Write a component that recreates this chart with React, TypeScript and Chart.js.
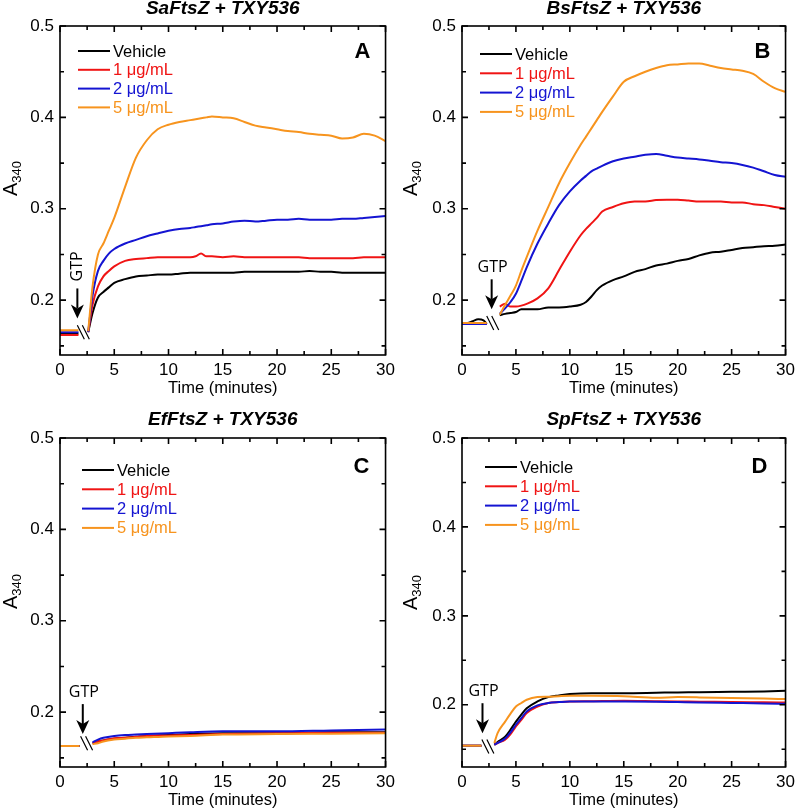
import React, { useEffect, useRef } from 'react';
import { Chart, registerables } from 'chart.js';

Chart.register(...registerables);

// ---------- shared ----------
const SERIES_LABELS = ['Vehicle', '1 μg/mL', '2 μg/mL', '5 μg/mL'];
const SERIES_COLORS = ['#000000', '#f01414', '#1414d2', '#f7941e'];
const SERIES_ORDER = [3, 2, 1, 0];
const X_TICKS = [0, 5, 10, 15, 20, 25, 30];
const Y_TICKS = [0.2, 0.3, 0.4, 0.5];
const PANEL_TITLES = ['SaFtsZ + TXY536', 'BsFtsZ + TXY536', 'EfFtsZ + TXY536', 'SpFtsZ + TXY536'];
const PANEL_LETTERS = ['A', 'B', 'C', 'D'];

// ---------- Panel A ----------
const TIME_A = [0, 1, 1.7, 2.2, 2.6, 3, 3.5, 4, 4.5, 5, 6, 7, 8, 9, 10, 11, 12, 12.5, 13, 13.5, 14, 15, 16, 17, 18, 19, 20, 21, 22, 23, 24, 25, 26, 27, 28, 29, 30];
const A_VEHICLE = [0.1635, 0.1635, 0.1635, null, 0.165, 0.186, 0.203, 0.209, 0.214, 0.219, 0.223, 0.226, 0.227, 0.228, 0.228, 0.229, 0.230, 0.230, 0.230, 0.230, 0.230, 0.230, 0.230, 0.231, 0.231, 0.231, 0.231, 0.231, 0.231, 0.232, 0.231, 0.231, 0.230, 0.230, 0.230, 0.230, 0.230];
const A_1UG = [0.162, 0.162, 0.162, null, 0.165, 0.195, 0.215, 0.226, 0.232, 0.237, 0.243, 0.245, 0.246, 0.247, 0.247, 0.247, 0.247, 0.248, 0.251, 0.248, 0.248, 0.247, 0.248, 0.247, 0.247, 0.247, 0.247, 0.247, 0.247, 0.246, 0.246, 0.246, 0.246, 0.246, 0.247, 0.247, 0.247];
const A_2UG = [0.165, 0.165, 0.165, null, 0.165, 0.205, 0.232, 0.243, 0.251, 0.256, 0.262, 0.266, 0.270, 0.273, 0.276, 0.278, 0.279, 0.280, 0.281, 0.282, 0.283, 0.284, 0.286, 0.287, 0.286, 0.287, 0.288, 0.288, 0.289, 0.288, 0.288, 0.288, 0.289, 0.289, 0.290, 0.291, 0.292];
const A_5UG = [0.167, 0.167, 0.167, null, 0.166, 0.215, 0.250, 0.262, 0.276, 0.290, 0.324, 0.356, 0.375, 0.387, 0.392, 0.395, 0.397, 0.398, 0.399, 0.400, 0.401, 0.400, 0.399, 0.395, 0.391, 0.389, 0.387, 0.385, 0.384, 0.382, 0.381, 0.380, 0.377, 0.378, 0.382, 0.380, 0.374];

// ---------- Panel B ----------
const TIME_B = [0, 0.5, 1, 1.5, 2, 2.3, 2.9, 3.5, 4, 4.5, 5, 5.5, 6, 7, 8, 9, 10, 11, 11.5, 12, 12.5, 13, 14, 15, 16, 17, 18, 19, 20, 21, 22, 23, 24, 25, 26, 27, 28, 29, 30];
const B_VEHICLE = [0.175, 0.175, 0.177, 0.179, 0.178, 0.174, null, 0.1836, 0.185, 0.186, 0.187, 0.190, 0.190, 0.190, 0.192, 0.192, 0.193, 0.195, 0.198, 0.204, 0.211, 0.216, 0.222, 0.226, 0.231, 0.234, 0.238, 0.240, 0.243, 0.245, 0.249, 0.252, 0.253, 0.255, 0.257, 0.258, 0.259, 0.2595, 0.261];
const B_1UG = [0.174, 0.174, 0.174, 0.174, 0.174, 0.174, null, 0.193, 0.196, 0.193, 0.193, 0.194, 0.196, 0.202, 0.213, 0.233, 0.253, 0.271, 0.278, 0.284, 0.290, 0.297, 0.302, 0.306, 0.308, 0.308, 0.3095, 0.310, 0.310, 0.309, 0.308, 0.308, 0.308, 0.307, 0.307, 0.305, 0.304, 0.302, 0.300];
const B_2UG = [0.174, 0.174, 0.174, 0.174, 0.174, 0.174, null, 0.185, 0.191, 0.198, 0.207, 0.221, 0.236, 0.262, 0.284, 0.304, 0.319, 0.331, 0.336, 0.341, 0.344, 0.347, 0.352, 0.355, 0.357, 0.359, 0.360, 0.358, 0.356, 0.355, 0.354, 0.3525, 0.351, 0.350, 0.348, 0.345, 0.341, 0.337, 0.335];
const B_5UG = [0.175, 0.175, 0.175, 0.175, 0.175, 0.175, null, 0.184, 0.195, 0.205, 0.216, 0.232, 0.247, 0.276, 0.302, 0.328, 0.350, 0.370, 0.379, 0.388, 0.397, 0.406, 0.423, 0.439, 0.445, 0.450, 0.454, 0.457, 0.458, 0.459, 0.459, 0.4565, 0.454, 0.4525, 0.451, 0.4475, 0.439, 0.432, 0.428];

// ---------- Panel C ----------
const TIME_C = [0, 1, 1.8, 2.4, 3, 3.5, 4, 5, 6, 7, 8, 10, 12, 15, 20, 25, 30];
const C_VEHICLE = [0.163, 0.163, 0.163, null, 0.166, 0.168, 0.169, 0.171, 0.172, 0.173, 0.174, 0.175, 0.176, 0.177, 0.177, 0.178, 0.178];
const C_1UG = [0.163, 0.163, 0.163, null, 0.166, 0.168, 0.169, 0.1715, 0.172, 0.173, 0.174, 0.1745, 0.175, 0.176, 0.177, 0.1775, 0.1775];
const C_2UG = [0.163, 0.163, 0.163, null, 0.167, 0.170, 0.172, 0.174, 0.175, 0.1755, 0.176, 0.177, 0.178, 0.179, 0.179, 0.180, 0.181];
const C_5UG = [0.163, 0.163, 0.163, null, 0.165, 0.166, 0.168, 0.170, 0.171, 0.172, 0.1725, 0.1735, 0.174, 0.1755, 0.176, 0.1765, 0.177];

// ---------- Panel D ----------
const TIME_D = [0, 1, 1.8, 2.4, 3, 3.3, 4, 4.5, 5, 5.5, 6, 7, 8, 9, 10, 12, 15, 18, 20, 22, 25, 28, 30];
const D_VEHICLE = [0.154, 0.154, 0.154, null, 0.155, 0.158, 0.164, 0.172, 0.181, 0.189, 0.196, 0.2037, 0.2086, 0.2105, 0.212, 0.213, 0.213, 0.2135, 0.2139, 0.214, 0.2146, 0.215, 0.2157];
const D_1UG = [0.154, 0.154, 0.154, null, 0.155, 0.157, 0.1606, 0.167, 0.1756, 0.183, 0.1906, 0.198, 0.2019, 0.203, 0.2037, 0.204, 0.2045, 0.204, 0.2037, 0.2035, 0.203, 0.2028, 0.2026];
const D_2UG = [0.154, 0.154, 0.154, null, 0.155, 0.157, 0.162, 0.169, 0.1775, 0.185, 0.1925, 0.1993, 0.202, 0.203, 0.2037, 0.2037, 0.2037, 0.2035, 0.203, 0.2025, 0.202, 0.2015, 0.201];
const D_5UG = [0.154, 0.154, 0.154, null, 0.157, 0.168, 0.181, 0.190, 0.198, 0.202, 0.2056, 0.2086, 0.209, 0.2096, 0.210, 0.210, 0.2096, 0.208, 0.2086, 0.2083, 0.2075, 0.207, 0.2064];

const Y_MINS = [0.14, 0.14, 0.14, 0.13];
// GTP arrow: [time of arrow, value of tip], break mark: [time, value]
const GTP_ARROWS = [[1.6, 0.180], [2.75, 0.190], [2.1, 0.176], [1.9, 0.168]];
const BREAK_MARKS = [[2.15, 0.165], [2.85, 0.175], [2.45, 0.166], [2.4, 0.153]];

const PANEL_DATA = [
  { time: TIME_A, series: [A_VEHICLE, A_1UG, A_2UG, A_5UG] },
  { time: TIME_B, series: [B_VEHICLE, B_1UG, B_2UG, B_5UG] },
  { time: TIME_C, series: [C_VEHICLE, C_1UG, C_2UG, C_5UG] },
  { time: TIME_D, series: [D_VEHICLE, D_1UG, D_2UG, D_5UG] },
];

// layout per panel (canvas-local pixels)
const LAYOUT = [
  { left: 0, top: 0, yAxisW: 60, padRight: 12, padTop: 26, xAxisH: 50, titleY: 9, xTitleY: 388, yTitleOff: -12, legX: 18, legY: 25, legRow: 18.8, letterDx: 23, letterDy: 26, gtpRot: true },
  { left: 400, top: 0, yAxisW: 62, padRight: 10, padTop: 26, xAxisH: 50, titleY: 9, xTitleY: 388, yTitleOff: -12, legX: 18, legY: 28, legRow: 19.3, letterDx: 23, letterDy: 26, gtpRot: false },
  { left: 0, top: 405, yAxisW: 60, padRight: 12, padTop: 33, xAxisH: 43, titleY: 15, xTitleY: 395, yTitleOff: -11, legX: 22, legY: 32, legRow: 19.3, letterDx: 24, letterDy: 29, gtpRot: false },
  { left: 400, top: 405, yAxisW: 62, padRight: 10, padTop: 33, xAxisH: 43, titleY: 15, xTitleY: 395, yTitleOff: -10, legX: 23, legY: 29, legRow: 19.3, letterDx: 26, letterDy: 29, gtpRot: false },
];

const FONT = '"Liberation Sans", Arial, Helvetica, sans-serif';

function makeDecor(idx: number) {
  const L = LAYOUT[idx];
  return {
    id: 'decor' + idx,
    afterDraw(chart: any) {
      const { ctx, chartArea: a } = chart;
      const xs = chart.scales.x;
      const ys = chart.scales.y;
      ctx.save();
      ctx.strokeStyle = '#000';
      ctx.fillStyle = '#000';
      // frame
      ctx.lineWidth = 1.6;
      ctx.strokeRect(a.left, a.top, a.right - a.left, a.bottom - a.top);
      // ticks inside, all four sides
      ctx.beginPath();
      for (let i = 0; i <= 12; i++) {
        const px = xs.getPixelForValue(i * 2.5);
        const len = i % 2 === 0 ? 6 : 4;
        ctx.moveTo(px, a.bottom); ctx.lineTo(px, a.bottom - len);
        ctx.moveTo(px, a.top); ctx.lineTo(px, a.top + len);
      }
      for (let k = 2; k <= 10; k++) {
        const v = k * 0.05;
        if (v < ys.min - 1e-9) continue;
        const py = ys.getPixelForValue(v);
        const len = k % 2 === 0 ? 6 : 4;
        ctx.moveTo(a.left, py); ctx.lineTo(a.left + len, py);
        ctx.moveTo(a.right, py); ctx.lineTo(a.right - len, py);
      }
      ctx.stroke();

      // title
      const cx = (a.left + a.right) / 2;
      ctx.font = 'italic bold 19px ' + FONT;
      ctx.textAlign = 'center';
      ctx.textBaseline = 'middle';
      ctx.fillText(PANEL_TITLES[idx], cx, L.titleY);
      // x title
      ctx.font = '16.5px ' + FONT;
      ctx.fillText('Time (minutes)', cx, L.xTitleY);
      // y title A340
      const cy = (a.top + a.bottom) / 2 + L.yTitleOff;
      ctx.save();
      ctx.translate(17, cy);
      ctx.rotate(-Math.PI / 2);
      ctx.textAlign = 'left';
      ctx.textBaseline = 'alphabetic';
      ctx.font = '20px ' + FONT;
      const wA = ctx.measureText('A').width;
      ctx.font = '13px ' + FONT;
      const wS = ctx.measureText('340').width;
      const start = -(wA + wS) / 2;
      ctx.font = '20px ' + FONT;
      ctx.fillText('A', start, 0);
      ctx.font = '13px ' + FONT;
      ctx.fillText('340', start + wA, 4);
      ctx.restore();

      // panel letter
      ctx.font = 'bold 22px ' + FONT;
      ctx.textAlign = 'center';
      ctx.textBaseline = 'middle';
      ctx.fillText(PANEL_LETTERS[idx], a.right - L.letterDx, a.top + L.letterDy);

      // legend
      chart.data.datasets.forEach((ds: any, i: number) => {
        const y = a.top + L.legY + i * L.legRow;
        const x0 = a.left + L.legX;
        ctx.strokeStyle = ds.borderColor;
        ctx.lineWidth = 2;
        ctx.beginPath();
        ctx.moveTo(x0, y); ctx.lineTo(x0 + 32, y);
        ctx.stroke();
        ctx.fillStyle = ds.borderColor;
        ctx.font = '16.5px ' + FONT;
        ctx.textAlign = 'left';
        ctx.textBaseline = 'middle';
        ctx.fillText(ds.label, x0 + 35, y + 1);
      });

      // GTP arrow
      ctx.strokeStyle = '#000';
      ctx.fillStyle = '#000';
      const [gt, gv] = GTP_ARROWS[idx];
      const ax = xs.getPixelForValue(gt);
      const tip = ys.getPixelForValue(gv);
      const top = tip - 30;
      ctx.lineWidth = 2;
      ctx.beginPath();
      ctx.moveTo(ax, top); ctx.lineTo(ax, tip - 10);
      ctx.stroke();
      ctx.beginPath();
      ctx.moveTo(ax - 6.5, tip - 14);
      ctx.lineTo(ax, tip - 10);
      ctx.lineTo(ax + 6.5, tip - 14);
      ctx.lineTo(ax, tip);
      ctx.closePath();
      ctx.fill();
      ctx.font = '16px "Open Sans", ' + FONT;
      ctx.textAlign = 'center';
      ctx.textBaseline = 'middle';
      if (L.gtpRot) {
        ctx.save();
        ctx.translate(ax, top - 22);
        ctx.rotate(-Math.PI / 2);
        ctx.fillText('GTP', 0, 0);
        ctx.restore();
      } else {
        ctx.fillText('GTP', ax + 1, top - 12);
      }

      // axis break marks
      const [bt, bv] = BREAK_MARKS[idx];
      const bx = xs.getPixelForValue(bt);
      const by = ys.getPixelForValue(bv);
      ctx.lineWidth = 1.2;
      ctx.beginPath();
      for (const d of [-2.5, 2.5]) {
        ctx.moveTo(bx + d - 3.5, by - 7);
        ctx.lineTo(bx + d + 3.5, by + 7);
      }
      ctx.stroke();
      ctx.restore();
    },
  };
}

function Panel({ idx }: { idx: number }) {
  const ref = useRef<HTMLCanvasElement | null>(null);
  useEffect(() => {
    if (!ref.current) return;
    const L = LAYOUT[idx];
    const pd = PANEL_DATA[idx];
    const datasets = pd.series.map((vals, i) => ({
      label: SERIES_LABELS[i],
      data: pd.time.map((t, j) => ({ x: t, y: vals[j] })),
      borderColor: SERIES_COLORS[i],
      backgroundColor: SERIES_COLORS[i],
      borderWidth: 2,
      pointRadius: 0,
      order: SERIES_ORDER[i],
      cubicInterpolationMode: 'monotone' as const,
      spanGaps: false,
    }));
    const tickFont = { family: FONT, size: 17 };
    const chart = new Chart(ref.current, {
      type: 'line',
      data: { datasets },
      options: {
        responsive: false,
        animation: false,
        devicePixelRatio: 1,
        layout: { padding: { left: 0, right: L.padRight, top: L.padTop, bottom: 0 } },
        plugins: { legend: { display: false }, tooltip: { enabled: false }, title: { display: false } },
        scales: {
          x: {
            type: 'linear',
            min: 0,
            max: 30,
            grid: { display: false, drawTicks: false },
            border: { display: false },
            ticks: { color: '#000', font: tickFont, padding: 5, maxRotation: 0, autoSkip: false },
            afterBuildTicks: (s: any) => { s.ticks = X_TICKS.map((v) => ({ value: v })); },
            afterFit: (s: any) => { s.height = L.xAxisH; },
          },
          y: {
            type: 'linear',
            min: Y_MINS[idx],
            max: 0.5,
            grid: { display: false, drawTicks: false },
            border: { display: false },
            ticks: { color: '#000', font: tickFont, padding: 6, callback: (v: any) => Number(v).toFixed(1) },
            afterBuildTicks: (s: any) => { s.ticks = Y_TICKS.map((v) => ({ value: v })); },
            afterFit: (s: any) => { s.width = L.yAxisW; },
          },
        },
      },
      plugins: [makeDecor(idx)],
    } as any);
    return () => chart.destroy();
  }, [idx]);
  const L = LAYOUT[idx];
  return (
    <div style={{ position: 'absolute', left: L.left, top: L.top, width: 400, height: 405 }}>
      <canvas ref={ref} width={400} height={405} style={{ width: 400, height: 405, display: 'block' }} />
    </div>
  );
}

export default function App() {
  return (
    <div style={{ position: 'absolute', left: 0, top: 0, width: 800, height: 810, background: '#fff' }}>
      {[0, 1, 2, 3].map((i) => (
        <Panel key={i} idx={i} />
      ))}
    </div>
  );
}
